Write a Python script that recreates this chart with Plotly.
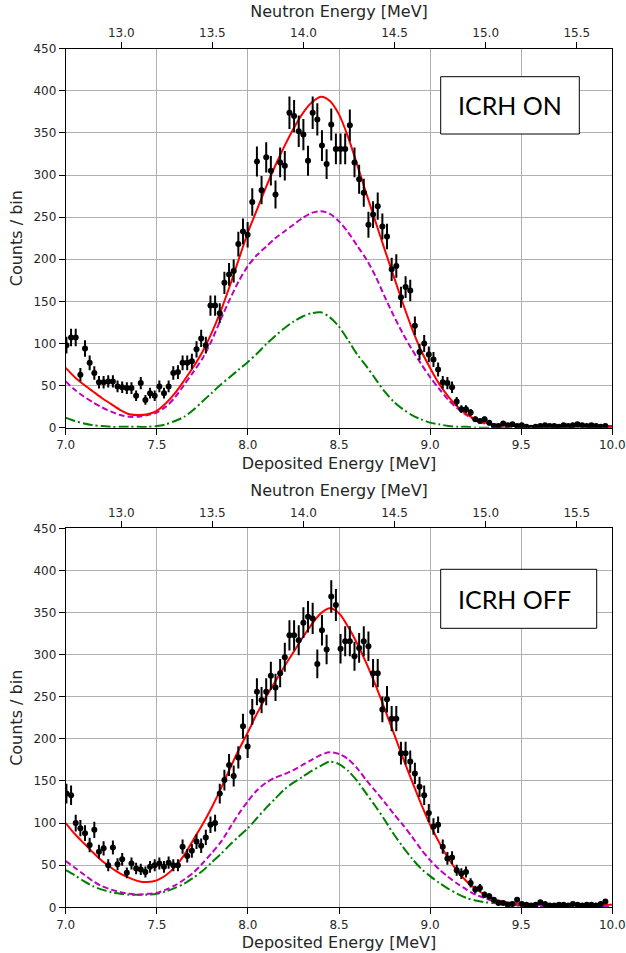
import plotly.graph_objects as go

# ---------------- data ----------------
BIN_START = 7.004      # centre of first bin [MeV]
BIN_WIDTH = 0.0255     # bin width [MeV]

counts_on = [98, 107, 107, 63, 94, 77, 65, 54, 54, 55,
             55, 49, 48, 47, 47, 38, 53, 33, 41, 38,
             49, 41, 49, 65, 66, 77, 77, 79, 93, 106,
             98, 145, 145, 136, 172, 182, 186, 218, 233, 229,
             268, 316, 282, 321, 305, 277, 315, 311, 374, 370,
             352, 348, 317, 374, 366, 335, 313, 360, 331, 331,
             331, 359, 315, 295, 279, 241, 253, 263, 239, 227,
             188, 192, 155, 167, 163, 121, 90, 100, 87, 81,
             69, 54, 53, 48, 31, 22, 22, 18, 10, 8,
             10, 6, 2, 2, 5, 3, 4, 2, 3, 1,
             0, 1, 2, 3, 2, 2, 1, 3, 2, 3,
             4, 3, 2, 3, 2, 1, 2]

counts_off = [135, 133, 100, 94, 88, 74, 92, 66, 70, 50,
              71, 51, 57, 41, 52, 46, 45, 42, 48, 50,
              52, 48, 53, 50, 50, 72, 61, 67, 78, 73,
              83, 98, 100, 135, 151, 169, 156, 178, 215, 191,
              232, 256, 246, 256, 275, 261, 278, 297, 323, 323,
              317, 338, 345, 343, 289, 329, 306, 369, 359, 307,
              316, 316, 298, 308, 316, 310, 278, 278, 235, 247,
              224, 224, 183, 183, 173, 159, 143, 133, 112, 96,
              98, 72, 58, 59, 44, 40, 42, 29, 21, 23,
              15, 13, 9, 5, 5, 3, 4, 9, 4, 3,
              2, 3, 6, 4, 2, 2, 3, 3, 2, 4,
              3, 2, 3, 3, 2, 4, 7]

bins_on = [round(BIN_START + BIN_WIDTH * i, 4) for i in range(len(counts_on))]
bins_off = [round(BIN_START + BIN_WIDTH * i, 4) for i in range(len(counts_off))]

curve_e = [7.00, 7.05, 7.10, 7.15, 7.20, 7.25, 7.30, 7.35, 7.40, 7.45,
           7.50, 7.55, 7.60, 7.65, 7.70, 7.75, 7.80, 7.85, 7.90, 7.95,
           8.00, 8.05, 8.10, 8.15, 8.20, 8.25, 8.30, 8.35, 8.40, 8.45,
           8.50, 8.55, 8.60, 8.65, 8.70, 8.75, 8.80, 8.85, 8.90, 8.95,
           9.00, 9.05, 9.10, 9.15, 9.20, 9.25, 9.30, 9.35, 9.40, 9.45,
           9.50, 9.55, 9.60, 9.65, 9.70, 9.75, 9.80, 9.85, 9.90, 9.95,
           10.00]

total_on = [71, 60, 51, 43, 35, 28, 21, 16, 15, 16,
            20, 29, 41, 56, 72, 90, 112, 138, 168, 200,
            232, 259, 286, 311, 334, 355, 373, 386, 393, 388,
            372, 345, 312, 278, 245, 212, 180, 148, 118, 92,
            71, 52, 37, 25, 16, 10, 6, 4, 3, 2,
            2, 2, 2, 2, 2, 2, 2, 2, 2, 2,
            2]
comp1_on = [55, 45, 37, 30, 24, 19, 15, 13, 13, 15,
            18, 25, 36, 51, 66, 82, 103, 128, 152, 174,
            192, 205, 215, 225, 233, 241, 249, 255, 257, 254,
            245, 232, 216, 200, 180, 156, 133, 112, 93, 76,
            60, 46, 33, 23, 15, 9, 5, 3, 2, 1,
            1, 1, 1, 1, 1, 1, 1, 1, 1, 1,
            1]
comp2_on = [12, 8, 5, 3, 2, 1, 1, 1, 1, 1,
            2, 4, 8, 13, 21, 31, 41, 51, 60, 69,
            78, 88, 99, 109, 118, 126, 132, 136, 137, 131,
            120, 104, 87, 73, 58, 43, 31, 22, 15, 10,
            6, 4, 2, 1, 1, 0, 0, 0, 0, 0,
            0, 0, 0, 0, 0, 0, 0, 0, 0, 0,
            0]

total_off = [100, 87, 76, 65, 55, 47, 40, 35, 31, 30,
             32, 38, 48, 62, 80, 98, 118, 140, 164, 187,
             208, 230, 250, 268, 286, 303, 320, 336, 349, 355,
             349, 333, 313, 290, 264, 236, 207, 178, 150, 123,
             98, 77, 58, 43, 31, 22, 15, 10, 7, 5,
             4, 4, 3, 3, 3, 3, 3, 3, 3, 3,
             3]
comp1_off = [55, 47, 39, 31, 25, 21, 18, 16, 15, 16,
             17, 21, 26, 33, 41, 52, 64, 77, 94, 111,
             126, 139, 148, 154, 158, 163, 169, 175, 181, 184,
             182, 176, 165, 151, 138, 125, 111, 98, 84, 69,
             56, 45, 36, 28, 21, 15, 11, 7, 5, 3,
             2, 2, 1, 1, 1, 1, 1, 1, 1, 1,
             1]
comp2_off = [44, 38, 31, 25, 21, 18, 16, 15, 15, 15,
             16, 19, 23, 28, 35, 43, 53, 63, 74, 84,
             94, 106, 118, 129, 140, 148, 155, 162, 168, 173,
             170, 162, 150, 135, 120, 104, 87, 72, 58, 46,
             37, 29, 22, 16, 11, 8, 6, 5, 4, 3,
             2, 2, 1, 1, 1, 1, 1, 1, 1, 1,
             1]

y_ticks = [0, 50, 100, 150, 200, 250, 300, 350, 400, 450]
x_ticks = [7.0, 7.5, 8.0, 8.5, 9.0, 9.5, 10.0]
n_ticks = [13.0, 13.5, 14.0, 14.5, 15.0, 15.5]
DEP_RANGE = [7.0, 10.0]
NEUTRON_RANGE = [12.695, 15.695]
labels = ["ICRH ON", "ICRH OFF"]

# ---------------- figure ----------------
W, H = 626, 953
FONT = "DejaVu Sans"
TXT = "#262626"

fig = go.Figure()

panels = [
    dict(xa="x", xn="x2", ya="y", counts=counts_on, bins=bins_on,
         curves=(total_on, comp1_on, comp2_on)),
    dict(xa="x3", xn="x4", ya="y2", counts=counts_off, bins=bins_off,
         curves=(total_off, comp1_off, comp2_off)),
]

for p in panels:
    tot, c1, c2 = p["curves"]
    # invisible helper so that the secondary (neutron energy) axis is drawn
    fig.add_trace(go.Scatter(x=NEUTRON_RANGE, y=[0, 0], mode="markers",
                             xaxis=p["xn"], yaxis=p["ya"],
                             marker=dict(opacity=0), showlegend=False, hoverinfo="skip"))
    fig.add_trace(go.Scatter(x=curve_e, y=c2, mode="lines", xaxis=p["xa"], yaxis=p["ya"],
                             line=dict(color="#008000", width=2, dash="10px,3px,2px,3px",
                                       shape="spline", smoothing=0.8),
                             showlegend=False, hoverinfo="skip"))
    fig.add_trace(go.Scatter(x=curve_e, y=c1, mode="lines", xaxis=p["xa"], yaxis=p["ya"],
                             line=dict(color="#bf00bf", width=2, dash="6px,3px",
                                       shape="spline", smoothing=0.8),
                             showlegend=False, hoverinfo="skip"))
    fig.add_trace(go.Scatter(x=curve_e, y=tot, mode="lines", xaxis=p["xa"], yaxis=p["ya"],
                             line=dict(color="#ff0000", width=2, shape="spline", smoothing=0.8),
                             showlegend=False, hoverinfo="skip"))
    fig.add_trace(go.Scatter(x=p["bins"], y=p["counts"], mode="markers",
                             xaxis=p["xa"], yaxis=p["ya"],
                             marker=dict(color="black", size=6),
                             error_y=dict(type="sqrt", thickness=2, width=0, color="black"),
                             showlegend=False, cliponaxis=True))

xdom = [65.7 / W, 612.3 / W]
ydom_top = [1 - 427.7 / H, 1 - 48.7 / H]
ydom_bot = [1 - 907.3 / H, 1 - 528.3 / H]

tickfont = dict(family=FONT, size=12, color=TXT)
titlefont = dict(family=FONT, size=16, color=TXT)

def dep_axis(anchor):
    return dict(domain=xdom, anchor=anchor, range=DEP_RANGE, tickvals=x_ticks,
                ticktext=[f"{v:.1f}" for v in x_ticks],
                showgrid=True, gridcolor="#b0b0b0", gridwidth=1,
                showline=True, linecolor="black", linewidth=1, mirror=True,
                ticks="outside", ticklen=6, tickcolor="black", tickwidth=1,
                tickfont=tickfont, zeroline=False,
                title=dict(text="Deposited Energy [MeV]", font=titlefont, standoff=6))

def neu_axis(overlay, anchor):
    return dict(overlaying=overlay, anchor=anchor, side="top", range=NEUTRON_RANGE,
                tickvals=n_ticks, ticktext=[f"{v:.1f}" for v in n_ticks],
                showgrid=False, showline=True, linecolor="black", linewidth=1,
                ticks="outside", ticklen=6, tickcolor="black", tickwidth=1,
                tickfont=tickfont, zeroline=False,
                title=dict(text="Neutron Energy [MeV]", font=titlefont, standoff=4))

def y_axis(dom, anchor):
    return dict(domain=dom, anchor=anchor, range=[0, 450], tickvals=y_ticks,
                showgrid=True, gridcolor="#b0b0b0", gridwidth=1,
                showline=True, linecolor="black", linewidth=1, mirror=True,
                ticks="outside", ticklen=6, tickcolor="black", tickwidth=1,
                tickfont=tickfont, zeroline=False,
                title=dict(text="Counts / bin", font=titlefont, standoff=6))

fig.update_layout(
    width=W, height=H,
    margin=dict(l=0, r=0, t=0, b=0, autoexpand=False),
    paper_bgcolor="white", plot_bgcolor="white",
    xaxis=dep_axis("y"),
    xaxis2=neu_axis("x", "y"),
    xaxis3=dep_axis("y2"),
    xaxis4=neu_axis("x3", "y2"),
    yaxis=y_axis(ydom_top, "x"),
    yaxis2=y_axis(ydom_bot, "x3"),
)

# label boxes
boxes = [
    dict(x0=440.7, x1=579.3, y0=76.7, y1=134.0, text=labels[0]),
    dict(x0=440.7, x1=596.7, y0=569.3, y1=628.3, text=labels[1]),
]
for b in boxes:
    fig.add_shape(type="rect", xref="paper", yref="paper",
                  x0=b["x0"] / W, x1=b["x1"] / W, y0=1 - b["y1"] / H, y1=1 - b["y0"] / H,
                  line=dict(color="black", width=1), fillcolor="white", layer="above")
    fig.add_annotation(xref="paper", yref="paper", x=456.0 / W, y=1 - (b["y0"] + b["y1"]) / 2 / H,
                       xanchor="left", yanchor="middle", showarrow=False, text=b["text"],
                       font=dict(family="Lato", size=25, color="black"))

fig.write_html("out.html")
